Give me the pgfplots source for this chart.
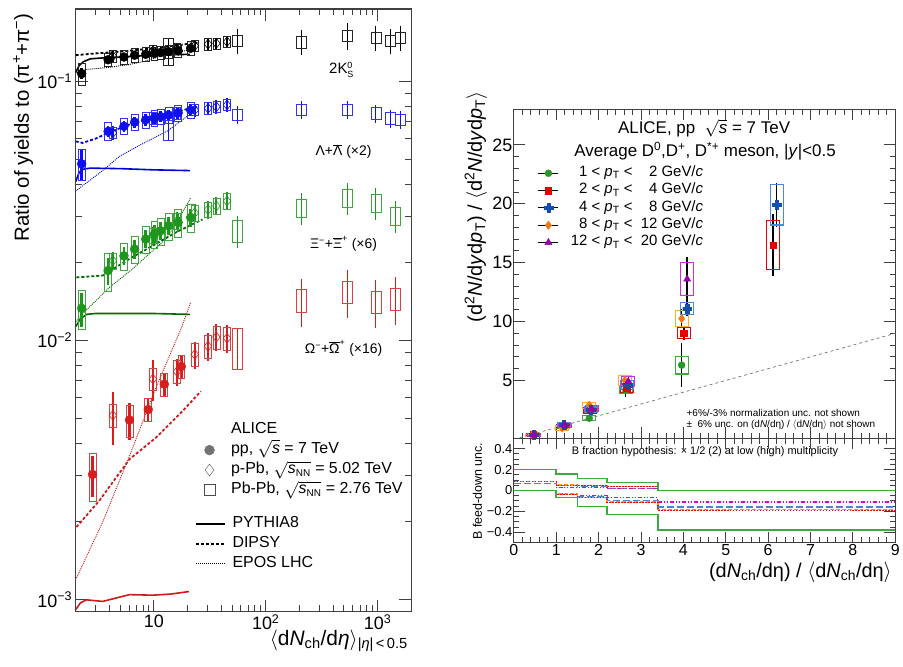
\documentclass[border=0pt]{standalone}
\usepackage{pgfplots}
\pgfplotsset{compat=1.18}
\usepackage{pgfplotstable}
\usepackage{fontspec}
\setmainfont{Liberation Sans}
\newcommand{\fs}[1]{\fontsize{#1}{#1}\selectfont}
\newcommand{\sm}[1]{\mbox{\fontsize{9}{9}\selectfont #1}}

\definecolor{cK}{RGB}{0,0,0}
\definecolor{cB}{RGB}{15,15,240}
\definecolor{cG}{RGB}{30,150,30}
\definecolor{cR}{RGB}{215,30,30}
\definecolor{mB}{RGB}{0,0,210}
\definecolor{mG}{RGB}{0,105,0}
\definecolor{mR}{RGB}{205,25,25}
\definecolor{dG}{RGB}{40,150,40}
\definecolor{bG}{RGB}{60,170,60}
\definecolor{dR}{RGB}{230,0,0}
\definecolor{dB}{RGB}{20,80,170}
\definecolor{bB}{RGB}{70,140,220}
\definecolor{dO}{RGB}{240,120,20}
\definecolor{bO}{RGB}{255,170,50}
\definecolor{dP}{RGB}{150,0,170}
\definecolor{bP}{RGB}{200,50,210}
\definecolor{lB}{RGB}{80,130,200}
\definecolor{lO}{RGB}{250,150,0}
\definecolor{lM}{RGB}{220,0,220}

\pgfdeclareplotmark{fcross}{%
  \pgfpathmoveto{\pgfqpoint{-0.35\pgfplotmarksize}{\pgfplotmarksize}}%
  \pgfpathlineto{\pgfqpoint{0.35\pgfplotmarksize}{\pgfplotmarksize}}%
  \pgfpathlineto{\pgfqpoint{0.35\pgfplotmarksize}{0.35\pgfplotmarksize}}%
  \pgfpathlineto{\pgfqpoint{\pgfplotmarksize}{0.35\pgfplotmarksize}}%
  \pgfpathlineto{\pgfqpoint{\pgfplotmarksize}{-0.35\pgfplotmarksize}}%
  \pgfpathlineto{\pgfqpoint{0.35\pgfplotmarksize}{-0.35\pgfplotmarksize}}%
  \pgfpathlineto{\pgfqpoint{0.35\pgfplotmarksize}{-\pgfplotmarksize}}%
  \pgfpathlineto{\pgfqpoint{-0.35\pgfplotmarksize}{-\pgfplotmarksize}}%
  \pgfpathlineto{\pgfqpoint{-0.35\pgfplotmarksize}{-0.35\pgfplotmarksize}}%
  \pgfpathlineto{\pgfqpoint{-\pgfplotmarksize}{-0.35\pgfplotmarksize}}%
  \pgfpathlineto{\pgfqpoint{-\pgfplotmarksize}{0.35\pgfplotmarksize}}%
  \pgfpathlineto{\pgfqpoint{-0.35\pgfplotmarksize}{0.35\pgfplotmarksize}}%
  \pgfpathclose\pgfusepathqfillstroke}

\pgfplotsset{
  boxlog/.style n args={3}{scatter, only marks, mark=*, mark size=0.01pt, forget plot,
     point meta={\thisrow{sy}},
     visualization depends on={#3*ln(1+\thisrow{sy})/ln(10) \as \sysup},
     visualization depends on={#3*ln(1-\thisrow{sy})/ln(10) \as \sysdn},
     scatter/@pre marker code/.code={\draw[draw=#1,line width=0.7pt] (-#2,\sysdn pt) rectangle (#2,\sysup pt);\pgfscope\pgfsetstrokeopacity{0}\pgfsetfillopacity{0}},
     scatter/@post marker code/.code={\endpgfscope}},
  boxlin/.style n args={3}{scatter, only marks, mark=*, mark size=0.01pt, forget plot,
     point meta={\thisrow{sy}},
     visualization depends on={#3*\thisrow{sy} \as \sysh},
     scatter/@pre marker code/.code={\draw[draw=#1,line width=1.1pt] (-#2,-\sysh pt) rectangle (#2,\sysh pt);\pgfscope\pgfsetstrokeopacity{0}\pgfsetfillopacity{0}},
     scatter/@post marker code/.code={\endpgfscope}},
  statlog/.style n args={2}{draw=none, mark=none, forget plot, error bars/.cd, y dir=both, y explicit relative, error mark=none, error bar style={draw=#1, line width=#2}},
  statlin/.style n args={2}{draw=none, mark=none, forget plot, error bars/.cd, y dir=both, y explicit, error mark=none, error bar style={draw=#1, line width=#2}},
}

% ---------------- left panel data: x, y, stat (rel), syst (rel)
\pgfplotstableread{
x y st sy
2.26 0.107 0.05 0.10
3.90 0.121 0.03 0.06
5.40 0.124 0.03 0.06
6.72 0.126 0.03 0.06
8.45 0.127 0.03 0.06
10.1 0.128 0.03 0.06
11.5 0.129 0.03 0.06
13.5 0.130 0.03 0.06
16.5 0.131 0.03 0.06
21.3 0.134 0.03 0.06
}\tKpp
\pgfplotstableread{
x y st sy
4.3 0.125 0.05 0.05
9.8 0.131 0.05 0.05
16.1 0.1335 0.05 0.05
23.2 0.137 0.05 0.05
30.5 0.139 0.05 0.05
36.2 0.140 0.05 0.05
45.1 0.142 0.05 0.05
}\tKpa
\pgfplotstableread{
x y st sy
13.4 0.131 0.12 0.12
55.5 0.1436 0.11 0.05
210 0.1415 0.11 0.05
537 0.150 0.12 0.05
966 0.147 0.11 0.05
1294 0.1436 0.11 0.05
1601 0.147 0.11 0.05
}\tKaa
\pgfplotstableread{
x y st sy
2.26 0.048 0.14 0.14
3.90 0.064 0.05 0.08
5.40 0.067 0.05 0.07
6.72 0.0695 0.05 0.07
8.45 0.071 0.05 0.07
10.1 0.072 0.05 0.07
11.5 0.073 0.05 0.07
13.5 0.074 0.05 0.07
16.5 0.0755 0.05 0.07
21.3 0.0775 0.05 0.07
}\tLpp
\pgfplotstableread{
x y st sy
4.3 0.0632 0.06 0.05
9.8 0.072 0.06 0.05
16.1 0.0752 0.06 0.05
23.2 0.0774 0.06 0.05
30.5 0.0786 0.06 0.05
36.2 0.0797 0.06 0.05
45.1 0.081 0.06 0.05
}\tLpa
\pgfplotstableread{
x y st sy
13.4 0.0649 0.09 0.09
55.5 0.0741 0.08 0.05
210 0.0774 0.08 0.05
537 0.0774 0.08 0.05
966 0.0752 0.08 0.05
1294 0.0720 0.08 0.05
1601 0.0709 0.08 0.05
}\tLaa
\pgfplotstableread{
x y st sy
2.26 0.0133 0.15 0.17
3.90 0.0186 0.12 0.17
5.40 0.0212 0.08 0.12
6.72 0.0225 0.08 0.12
8.45 0.0246 0.08 0.12
10.1 0.0257 0.08 0.12
11.5 0.0265 0.08 0.12
13.5 0.0277 0.08 0.12
16.5 0.0285 0.08 0.12
21.3 0.0298 0.08 0.12
}\tXpp
\pgfplotstableread{
x y st sy
4.3 0.0203 0.08 0.07
9.8 0.0254 0.08 0.07
16.1 0.0289 0.08 0.07
23.2 0.0311 0.08 0.07
30.5 0.0320 0.08 0.07
36.2 0.0330 0.08 0.07
45.1 0.0345 0.08 0.07
}\tXpa
\pgfplotstableread{
x y st sy
55.5 0.0265 0.14 0.10
210 0.0325 0.14 0.08
537 0.0355 0.14 0.08
966 0.0340 0.14 0.08
1442 0.0302 0.14 0.08
}\tXaa
\pgfplotstableread{
x y st sy
2.83 0.00304 0.18 0.21
6.05 0.00493 0.16 0.14
8.9 0.00541 0.10 0.10
12.4 0.00678 0.10 0.10
17.6 0.00793 0.10 0.10
}\tOpp
\pgfplotstableread{
x y st sy
4.3 0.00514 0.23 0.10
9.8 0.0071 0.18 0.10
16.1 0.00759 0.12 0.10
23.2 0.00883 0.12 0.10
30.5 0.0095 0.12 0.10
36.2 0.0103 0.12 0.10
45.1 0.0102 0.12 0.10
}\tOpa
\pgfplotstableread{
x y st sy
55.5 0.00946 0.18 0.18
210 0.0143 0.21 0.10
537 0.0154 0.21 0.10
966 0.0141 0.21 0.10
1442 0.0145 0.21 0.10
}\tOaa

% ---------------- right panel data: x, y, stat, syst (absolute)
\pgfplotstableread{
x y st sy
0.45 0.38 0.08 0.12
1.16 1.10 0.15 0.15
1.78 1.80 0.30 0.22
2.64 4.20 0.60 0.32
3.96 6.30 1.85 0.75
}\tDg
\pgfplotstableread{
x y st sy
0.45 0.38 0.05 0.10
1.16 1.12 0.12 0.15
1.80 2.45 0.25 0.25
2.66 4.35 0.50 0.35
4.01 9.00 0.60 0.47
6.12 16.50 2.60 2.10
}\tDr
\pgfplotstableread{
x y st sy
0.47 0.40 0.05 0.10
1.18 1.25 0.12 0.15
1.82 2.50 0.25 0.25
2.68 4.60 0.50 0.40
4.09 11.10 0.60 0.53
6.20 19.90 1.90 1.70
}\tDb
\pgfplotstableread{
x y st sy
0.43 0.35 0.05 0.10
1.14 0.95 0.15 0.18
1.78 2.90 0.30 0.25
2.62 5.00 0.50 0.40
3.96 10.25 0.80 0.66
}\tDo
\pgfplotstableread{
x y st sy
0.47 0.38 0.05 0.10
1.20 1.20 0.15 0.15
1.84 2.60 0.30 0.25
2.70 4.90 0.60 0.40
4.09 13.60 1.90 1.38
}\tDp

\begin{document}
\begin{tikzpicture}
\path (0pt,0pt) rectangle (903pt,-669pt);

% ================= LEFT PANEL =================
\begin{axis}[
  at={(76pt,-614pt)}, anchor=south west,
  width=337pt, height=605pt, scale only axis,
  xmode=log, ymode=log,
  xmin=2, xmax=2000, ymin=9e-4, ymax=0.19,
  xtick={10,100,1000},
  xticklabels={10,10\textsuperscript{2},10\textsuperscript{3}},
  minor xtick={2,3,4,5,6,7,8,9,20,30,40,50,60,70,80,90,200,300,400,500,600,700,800,900},
  ytick={1e-3,1e-2,1e-1},
  yticklabels={10\textsuperscript{−3},10\textsuperscript{−2},10\textsuperscript{−1}},
  minor ytick={2e-3,3e-3,4e-3,5e-3,6e-3,7e-3,8e-3,9e-3,2e-2,3e-2,4e-2,5e-2,6e-2,7e-2,8e-2,9e-2},
  tick align=inside, major tick length=12pt, minor tick length=6pt,
  axis line style={line width=1.2pt, black!75},
  every tick/.style={line width=0.9pt, black!75},
  ticklabel style={font=\fs{18}},
  legend style={at={(rel axis cs:0.365,0.314)}, anchor=north west, draw=none, fill=none,
     inner sep=0pt, font=\fs{16}, nodes={text height=11pt, text depth=3.5pt, inner sep=0.5pt}, row sep=4.5pt},
  legend cell align=left,
  legend image code/.code={\draw[#1] plot coordinates {(11pt,0pt)}; \path (0pt,0pt) (32pt,0pt);},
]
% ---- models
\addplot[cK, line width=1.6pt, forget plot] coordinates {(2.0,0.108) (2.15,0.115) (2.35,0.119) (2.7,0.122) (3.5,0.123) (5,0.124) (10,0.126) (21,0.127)};
\addplot[cK, line width=1.8pt, dash pattern=on 3pt off 2pt, forget plot] coordinates {(2,0.126) (3,0.128) (5,0.130) (10,0.134) (17,0.138) (25,0.141)};
\addplot[cK, line width=0.9pt, dash pattern=on 1pt off 1pt, forget plot] coordinates {(2.05,0.108) (2.5,0.111) (3.9,0.113) (6,0.116) (8,0.119) (11,0.124) (14,0.128) (21,0.132)};
\addplot[mB, line width=1.6pt, forget plot] coordinates {(2.0,0.041) (2.15,0.0445) (2.35,0.0458) (2.7,0.0462) (5,0.046) (10,0.0455) (21,0.0452)};
\addplot[mB, line width=1.8pt, dash pattern=on 3pt off 2pt, forget plot] coordinates {(2.0,0.0586) (2.3,0.0578) (3,0.0600) (4,0.0635) (6,0.068) (10,0.0725) (16,0.0765) (25,0.0797)};
\addplot[mB, line width=0.9pt, dash pattern=on 1pt off 1pt, forget plot] coordinates {(2.0,0.0377) (3.3,0.0444) (5,0.0515) (8,0.0575) (13.4,0.0645) (18,0.071) (23.7,0.0774)};
\addplot[mG, line width=1.6pt, forget plot] coordinates {(2.0,0.0113) (2.2,0.0121) (2.5,0.0126) (3,0.0127) (10,0.0127) (21,0.0126)};
\addplot[mG, line width=1.8pt, dash pattern=on 3pt off 2pt, forget plot] coordinates {(2.03,0.0175) (3.5,0.0178) (6,0.0206) (9.75,0.0232) (16,0.0262) (27.2,0.0293)};
\addplot[mG, line width=0.9pt, dash pattern=on 1pt off 1pt, forget plot] coordinates {(2.0,0.0118) (2.41,0.0129) (4,0.0160) (6.47,0.0189) (9,0.0215) (12.8,0.0246) (16,0.0285) (21.4,0.0356)};
\addplot[mR, line width=1.6pt, forget plot] coordinates {(2.0,9.14e-4) (2.2,9.7e-4) (2.49,9.98e-4) (3.49,9.84e-4) (6.05,1.045e-3) (9.7,1.04e-3) (14,1.05e-3) (20.6,1.074e-3)};
\addplot[mR, line width=1.8pt, dash pattern=on 3pt off 2pt, forget plot] coordinates {(2.03,1.905e-3) (3.27,2.415e-3) (6.05,3.48e-3) (10.4,4.21e-3) (18,5.33e-3) (26.3,6.36e-3)};
\addplot[mR, line width=0.9pt, dash pattern=on 1pt off 1pt, forget plot] coordinates {(2.03,1.21e-3) (3.5,2.0e-3) (6.05,3.58e-3) (10.4,6.55e-3) (17.5,0.0111) (21.4,0.01406)};

% ---- K0S
\addplot[boxlog={cK!85}{3.5pt}{260.27}] table[x=x,y=y] {\tKpp};
\addplot[boxlog={cK!85}{3.5pt}{260.27}] table[x=x,y=y] {\tKpa};
\addplot[boxlog={cK!85}{5pt}{260.27}] table[x=x,y=y] {\tKaa};
\addplot[statlog={cK}{2.5pt}] table[x=x,y=y,y error=st] {\tKpp};
\addplot[statlog={cK}{2pt}] table[x=x,y=y,y error=st] {\tKpa};
\addplot[statlog={cK}{1pt}] table[x=x,y=y,y error=st] {\tKaa};
\addplot[only marks, mark=*, mark size=4.5pt, cK, forget plot] table[x=x,y=y] {\tKpp};
\addplot[only marks, mark=diamond, mark size=5pt, cK, mark options={line width=0.6pt}, forget plot] table[x=x,y=y] {\tKpa};
% ---- Lambda
\addplot[boxlog={cB!85}{3.5pt}{260.27}] table[x=x,y=y] {\tLpp};
\addplot[boxlog={cB!85}{3.5pt}{260.27}] table[x=x,y=y] {\tLpa};
\addplot[boxlog={cB!85}{5pt}{260.27}] table[x=x,y=y] {\tLaa};
\addplot[statlog={cB}{2.5pt}] table[x=x,y=y,y error=st] {\tLpp};
\addplot[statlog={cB}{2pt}] table[x=x,y=y,y error=st] {\tLpa};
\addplot[statlog={cB}{1pt}] table[x=x,y=y,y error=st] {\tLaa};
\addplot[only marks, mark=*, mark size=4.5pt, cB, forget plot] table[x=x,y=y] {\tLpp};
\addplot[only marks, mark=diamond, mark size=5pt, cB, mark options={line width=0.6pt}, forget plot] table[x=x,y=y] {\tLpa};
% ---- Xi
\addplot[boxlog={cG!85}{3.5pt}{260.27}] table[x=x,y=y] {\tXpp};
\addplot[boxlog={cG!85}{3.5pt}{260.27}] table[x=x,y=y] {\tXpa};
\addplot[boxlog={cG!85}{5pt}{260.27}] table[x=x,y=y] {\tXaa};
\addplot[statlog={cG}{2.5pt}] table[x=x,y=y,y error=st] {\tXpp};
\addplot[statlog={cG}{2pt}] table[x=x,y=y,y error=st] {\tXpa};
\addplot[statlog={cG}{1pt}] table[x=x,y=y,y error=st] {\tXaa};
\addplot[only marks, mark=*, mark size=4.5pt, cG, forget plot] table[x=x,y=y] {\tXpp};
\addplot[only marks, mark=diamond, mark size=5pt, cG, mark options={line width=0.6pt}, forget plot] table[x=x,y=y] {\tXpa};
% ---- Omega
\addplot[boxlog={cR!85}{3.5pt}{260.27}] table[x=x,y=y] {\tOpp};
\addplot[boxlog={cR!85}{3.5pt}{260.27}] table[x=x,y=y] {\tOpa};
\addplot[boxlog={cR!85}{5pt}{260.27}] table[x=x,y=y] {\tOaa};
\addplot[statlog={cR}{2.5pt}] table[x=x,y=y,y error=st] {\tOpp};
\addplot[statlog={cR}{2pt}] table[x=x,y=y,y error=st] {\tOpa};
\addplot[statlog={cR}{1pt}] table[x=x,y=y,y error=st] {\tOaa};
\addplot[only marks, mark=*, mark size=4.5pt, cR, forget plot] table[x=x,y=y] {\tOpp};
\addplot[only marks, mark=diamond, mark size=5pt, cR, mark options={line width=0.6pt}, forget plot] table[x=x,y=y] {\tOpa};

% ---- legend (data)
\addlegendimage{empty legend}\addlegendentry{ALICE}
\addlegendimage{mark=*, mark size=5pt, color=black!55}\addlegendentry{pp, $\sqrt{\mbox{\textit{s}}}$ = 7 TeV}
\addlegendimage{mark=diamond, mark size=6pt, color=black!70}\addlegendentry{p-Pb, $\sqrt{\mbox{\textit{s}}_{\mbox{\fs{10}NN}}}$ = 5.02 TeV}
\addlegendimage{mark=square, mark size=5.5pt, color=black!70}\addlegendentry{Pb-Pb, $\sqrt{\mbox{\textit{s}}_{\mbox{\fs{10}NN}}}$ = 2.76 TeV}
\end{axis}

% model legend (overlay axis)
\begin{axis}[
  at={(76pt,-614pt)}, anchor=south west,
  width=337pt, height=605pt, scale only axis, hide axis,
  xmin=0, xmax=1, ymin=0, ymax=1,
  legend style={at={(rel axis cs:0.3561,0.1587)}, anchor=north west, draw=none, fill=none,
     inner sep=0pt, font=\fs{16}, nodes={text height=11pt, text depth=3.5pt, inner sep=0.5pt}, row sep=4.5pt},
  legend cell align=left,
  legend image code/.code={\draw[#1] (0pt,0pt) -- (29pt,0pt); \path (0pt,0pt) (35pt,0pt);},
]
\addlegendimage{black, line width=1.6pt}\addlegendentry{PYTHIA8}
\addlegendimage{black, line width=1.8pt, dash pattern=on 3pt off 2pt}\addlegendentry{DIPSY}
\addlegendimage{black, line width=0.9pt, dash pattern=on 1pt off 1pt}\addlegendentry{EPOS LHC}
\end{axis}

% left labels
\node[rotate=90, anchor=base east, font=\fs{20.5}] at (29pt,-10pt) {Ratio of yields to (π\textsuperscript{+}+π\textsuperscript{−})};
\node[anchor=base east, font=\fs{21}] at (413pt,-648pt) {$\langle$d\textit{N}\textsubscript{ch}/d\textit{η}$\rangle$\textsubscript{|\textit{η}|\,<\,0.5}};
\node[font=\fs{15}] at (343pt,-70pt) {2K$^{\sm{0}}_{\sm{S}}$};
\node[font=\fs{14}] at (345pt,-152pt) {Λ+$\overline{\mbox{Λ}}$ (×2)};
\node[font=\fs{14}] at (345pt,-245pt) {Ξ$^{\sm{−}}$+$\overline{\mbox{Ξ}}^{\sm{+}}$ (×6)};
\node[font=\fs{14}] at (345pt,-350pt) {Ω$^{\sm{−}}$+$\overline{\mbox{Ω}}^{\sm{+}}$ (×16)};

% ================= RIGHT UPPER PANEL =================
\begin{axis}[
  at={(516pt,-440pt)}, anchor=south west,
  width=383pt, height=330pt, scale only axis,
  xmin=0, xmax=9, ymin=0.1, ymax=28,
  xtick={0,1,2,3,4,5,6,7,8,9}, xticklabel=\empty, minor x tick num=4,
  ytick={5,10,15,20,25}, yticklabels={5,10,15,20,25}, minor y tick num=4,
  tick align=inside, major tick length=11pt, minor tick length=5.5pt,
  axis line style={line width=1.2pt, black!75},
  every tick/.style={line width=0.9pt, black!75},
  yticklabel style={font=\fs{18}, xshift=2pt},
  legend style={at={(rel axis cs:0.0627,0.8294)}, anchor=north west, draw=none, fill=none,
     inner sep=0pt, font=\fs{15}, nodes={text height=10.5pt, text depth=3.9pt, inner sep=0.3pt}, row sep=2.4pt},
  legend cell align=left,
  legend image code/.code={\draw[black, line width=1pt] (0pt,0pt) -- (20pt,0pt); \draw[#1] plot coordinates {(10pt,0pt)}; \path (0pt,0pt) (32pt,0pt);},
]
\addplot[gray, dashed, line width=0.8pt, forget plot] coordinates {(0,0) (9,9)};
\addplot[boxlin={bG}{6.5pt}{11.828}] table[x=x,y=y] {\tDg};
\addplot[boxlin={dR}{6.5pt}{11.828}] table[x=x,y=y] {\tDr};
\addplot[boxlin={bO}{6.5pt}{11.828}] table[x=x,y=y] {\tDo};
\addplot[boxlin={bB}{6.5pt}{11.828}] table[x=x,y=y] {\tDb};
\addplot[boxlin={bP}{6.5pt}{11.828}] table[x=x,y=y] {\tDp};
\addplot[statlin={black}{1.5pt}] table[x=x,y=y,y error=st] {\tDg};
\addplot[statlin={black}{1.5pt}] table[x=x,y=y,y error=st] {\tDr};
\addplot[statlin={black}{1.5pt}] table[x=x,y=y,y error=st] {\tDo};
\addplot[statlin={black}{1.5pt}] table[x=x,y=y,y error=st] {\tDb};
\addplot[statlin={black}{1.5pt}] table[x=x,y=y,y error=st] {\tDp};
\addplot[only marks, mark=*, mark size=3.5pt, dG, forget plot] table[x=x,y=y] {\tDg};
\addplot[only marks, mark=square*, mark size=3.2pt, dR, forget plot] table[x=x,y=y] {\tDr};
\addplot[only marks, mark=diamond*, mark size=4.2pt, dO, forget plot] table[x=x,y=y] {\tDo};
\addplot[only marks, mark=fcross, mark size=4.5pt, dB, forget plot] table[x=x,y=y] {\tDb};
\addplot[only marks, mark=triangle*, mark size=4.2pt, dP, forget plot] table[x=x,y=y] {\tDp};
\addlegendimage{mark=*, mark size=3.5pt, color=dG}\addlegendentry{\phantom{1}1 < \textit{p}\textsubscript{T} <\ \ \phantom{1}2 GeV/\textit{c}}
\addlegendimage{mark=square*, mark size=3.2pt, color=dR}\addlegendentry{\phantom{1}2 < \textit{p}\textsubscript{T} <\ \ \phantom{1}4 GeV/\textit{c}}
\addlegendimage{mark=fcross, mark size=4.5pt, color=dB}\addlegendentry{\phantom{1}4 < \textit{p}\textsubscript{T} <\ \ \phantom{1}8 GeV/\textit{c}}
\addlegendimage{mark=diamond*, mark size=4.2pt, color=dO}\addlegendentry{\phantom{1}8 < \textit{p}\textsubscript{T} <\ \ 12 GeV/\textit{c}}
\addlegendimage{mark=triangle*, mark size=4.2pt, color=dP}\addlegendentry{12 < \textit{p}\textsubscript{T} <\ \ 20 GeV/\textit{c}}
\end{axis}

% ================= RIGHT LOWER PANEL =================
\begin{axis}[
  at={(516pt,-545pt)}, anchor=south west,
  width=383pt, height=105pt, scale only axis,
  xmin=0, xmax=9, ymin=-0.5, ymax=0.5,
  xtick={0,1,2,3,4,5,6,7,8,9}, xticklabels={0,1,2,3,4,5,6,7,8,9}, minor x tick num=4,
  ytick={-0.4,-0.2,0,0.2,0.4}, yticklabels={−0.4,−0.2,0,0.2,0.4}, minor y tick num=3,
  tick align=inside, major tick length=11pt, minor tick length=5.5pt,
  axis line style={line width=1.2pt, black!75},
  every tick/.style={line width=0.9pt, black!75},
  xticklabel style={font=\fs{16}, yshift=2pt},
  yticklabel style={font=\fs{13}, xshift=2pt},
]
\addplot[const plot, lB, line width=1.3pt, dash pattern=on 7pt off 3pt] coordinates {(0,0.068) (1,0.05) (1.5,0.04) (2.2,0.022) (3.4,0) (9,0)};
\addplot[const plot, lB, line width=1.3pt, dash pattern=on 7pt off 3pt] coordinates {(0,0) (1,-0.04) (1.5,-0.06) (2.2,-0.095) (3.4,-0.158) (9,-0.158)};
\addplot[const plot, lM, line width=1.1pt, dash pattern=on 4pt off 2pt on 1pt off 2pt on 1pt off 2pt] coordinates {(0,0) (1,0.03) (1.5,0.03) (2.2,0.02) (3.4,0) (9,0)};
\addplot[const plot, lM, line width=1.1pt, dash pattern=on 4pt off 2pt on 1pt off 2pt on 1pt off 2pt] coordinates {(0,0) (1,-0.03) (1.5,-0.05) (2.2,-0.07) (3.4,-0.11) (9,-0.11)};
\addplot[const plot, lO, line width=1.4pt, dash pattern=on 4pt off 2pt] coordinates {(0,0.085) (1,0.052) (1.5,0.045) (2.2,0.04) (3.4,0) (9,0)};
\addplot[const plot, lO, line width=1.4pt, dash pattern=on 4pt off 2pt] coordinates {(0,0) (1,-0.035) (1.5,-0.068) (2.2,-0.11) (3.4,-0.18) (9,-0.18)};
\addplot[const plot, red, line width=1.2pt, dash pattern=on 1.5pt off 1.5pt] coordinates {(0,0.085) (1,0.05) (1.5,0.045) (2.2,0.035) (3.4,0) (9,0)};
\addplot[const plot, red, line width=1.2pt, dash pattern=on 1.5pt off 1.5pt] coordinates {(0,0) (1,-0.04) (1.5,-0.065) (2.2,-0.115) (3.4,-0.19) (9,-0.19)};
\addplot[const plot, bG, line width=1.6pt] coordinates {(0,0.2) (1,0.158) (1.5,0.116) (2.2,0.077) (3.4,0) (9,0)};
\addplot[const plot, bG, line width=1.6pt] coordinates {(0,0) (1,-0.068) (1.5,-0.152) (2.2,-0.23) (3.4,-0.38) (9,-0.38)};
\end{axis}

% right labels
\node[font=\fs{17}] at (707pt,-129pt) {ALICE, pp \ $\sqrt{\mbox{\textit{s}}}$ = 7 TeV};
\node[font=\fs{17}] at (708pt,-152pt) {Average D\textsuperscript{0},D\textsuperscript{+}, D\textsuperscript{*+} meson, |\textit{y}|<0.5};
\node[anchor=west, font=\fs{10}] at (686pt,-415pt) {+6\%/-3\% normalization unc. not shown};
\node[anchor=west, font=\fs{10}] at (686pt,-427pt) {±\ \ 6\% unc. on (d\textit{N}/dη) / $\langle$d\textit{N}/dη$\rangle$ not shown};
\node[font=\fs{11}] at (708pt,-454pt) {B fraction hypothesis: × 1/2 (2) at low (high) multiplicity};
\node[rotate=90, anchor=base east, font=\fs{20}] at (484pt,-88pt) {(d\textsuperscript{2}\textit{N}/d\textit{y}d\textit{p}\textsubscript{T}) / $\langle$d\textsuperscript{2}\textit{N}/d\textit{y}d\textit{p}\textsubscript{T}$\rangle$};
\node[rotate=90, anchor=base east, font=\fs{12.5}] at (484pt,-441pt) {B feed-down unc.};
\node[anchor=base east, font=\fs{20}] at (899pt,-580pt) {(d\textit{N}\textsubscript{ch}/dη) / $\langle$d\textit{N}\textsubscript{ch}/dη$\rangle$};
\end{tikzpicture}
\end{document}
